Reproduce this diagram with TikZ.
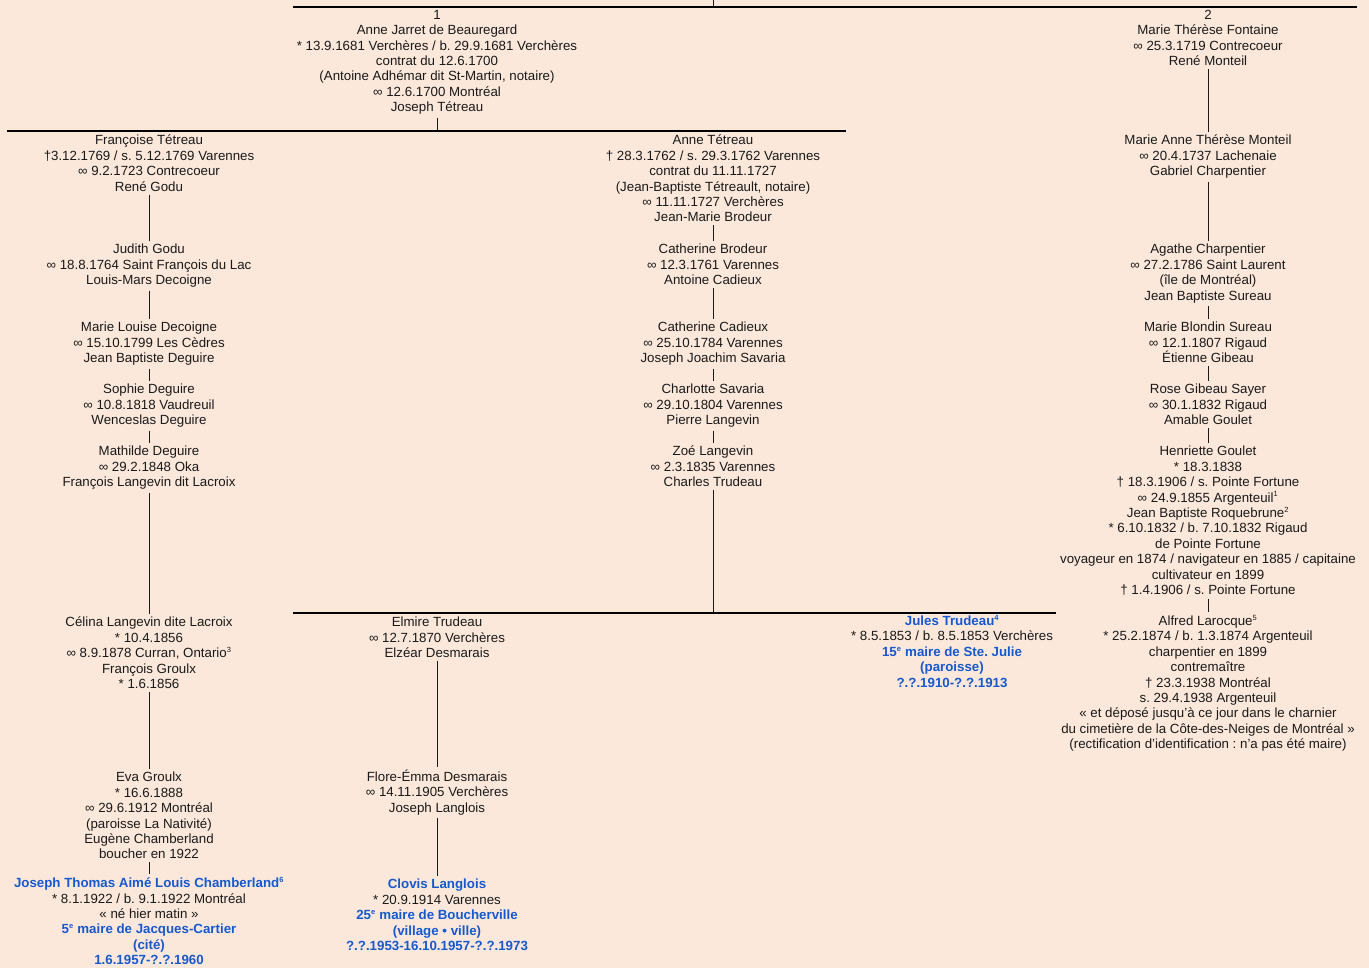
\documentclass[tikz,border=0pt]{standalone}
\usepackage{fontspec}
\setmainfont{Liberation Sans}
\frenchspacing

\definecolor{pagebg}{RGB}{252,232,219}
\definecolor{inkblack}{RGB}{25,25,25}
\definecolor{mayorblue}{RGB}{22,88,206}

\newcommand{\supnum}[1]{\textsuperscript{\fontsize{7.5}{7.5}\selectfont #1}}
\newcommand{\mayor}[1]{\textcolor{mayorblue}{\bfseries #1}}

\tikzset{
	person/.style={align=center, anchor=north, inner sep=3pt, yshift=-1pt, text=inkblack,
		font=\fontsize{13.3}{15.4}\selectfont},
	kin/.style={draw=inkblack, line width=0.8pt},
	bar/.style={draw=black, line width=2pt},
}

\begin{document}
\begin{tikzpicture}[x=1pt,y=-1pt]
	\fill[pagebg] (0,0) rectangle (1369,968);
	\useasboundingbox (0,0) rectangle (1369,968);

	% bars
	\coordinate (barAw) at (293,7);   \coordinate (barAe) at (1357,7);
	\coordinate (barBw) at (7,131);   \coordinate (barBe) at (846,131);
	\coordinate (barCw) at (293,613); \coordinate (barCe) at (1056,613);
	\coordinate (topstub) at (713,0);
	\draw[bar] (barAw) -- (barAe);
	\draw[bar] (barBw) -- (barBe);
	\draw[bar] (barCw) -- (barCe);

	% top couple
	\node[person] (n1) at (437,6) {1\\Anne Jarret de Beauregard\\* 13.9.1681 Verchères / b. 29.9.1681 Verchères\\contrat du 12.6.1700\\(Antoine Adhémar dit St-Martin, notaire)\\∞ 12.6.1700 Montréal\\Joseph Tétreau};
	\node[person] (n2) at (1208,6) {2\\Marie Thérèse Fontaine\\∞ 25.3.1719 Contrecoeur\\René Monteil};

	% left line
	\node[person] (ft) at (149,131) {Françoise Tétreau\\†3.12.1769 / s. 5.12.1769 Varennes\\∞ 9.2.1723 Contrecoeur\\René Godu};
	\node[person] (jg) at (149,240) {Judith Godu\\∞ 18.8.1764 Saint François du Lac\\Louis-Mars Decoigne};
	\node[person] (mld) at (149,318) {Marie Louise Decoigne\\∞ 15.10.1799 Les Cèdres\\Jean Baptiste Deguire};
	\node[person] (sd) at (149,380) {Sophie Deguire\\∞ 10.8.1818 Vaudreuil\\Wenceslas Deguire};
	\node[person] (md) at (149,442) {Mathilde Deguire\\∞ 29.2.1848 Oka\\François Langevin dit Lacroix};
	\node[person] (cl) at (149,613) {Célina Langevin dite Lacroix\\* 10.4.1856\\∞ 8.9.1878 Curran, Ontario\supnum{3}\\François Groulx\\* 1.6.1856};
	\node[person] (eg) at (149,768) {Eva Groulx\\* 16.6.1888\\∞ 29.6.1912 Montréal\\(paroisse La Nativité)\\Eugène Chamberland\\boucher en 1922};
	\node[person] (jc) at (149,873) {\mayor{Joseph Thomas Aimé Louis Chamberland\supnum{6}}\\* 8.1.1922 / b. 9.1.1922 Montréal\\« né hier matin »\\\mayor{5\supnum{e} maire de Jacques-Cartier}\\\mayor{(cité)}\\\mayor{1.6.1957-?.?.1960}};

	% middle line
	\node[person] (at) at (713,131) {Anne Tétreau\\† 28.3.1762 / s. 29.3.1762 Varennes\\contrat du 11.11.1727\\(Jean-Baptiste Tétreault, notaire)\\∞ 11.11.1727 Verchères\\Jean-Marie Brodeur};
	\node[person] (cb) at (713,240) {Catherine Brodeur\\∞ 12.3.1761 Varennes\\Antoine Cadieux};
	\node[person] (cc) at (713,318) {Catherine Cadieux\\∞ 25.10.1784 Varennes\\Joseph Joachim Savaria};
	\node[person] (cs) at (713,380) {Charlotte Savaria\\∞ 29.10.1804 Varennes\\Pierre Langevin};
	\node[person] (zl) at (713,442) {Zoé Langevin\\∞ 2.3.1835 Varennes\\Charles Trudeau};

	\node[person] (et) at (437,613) {Elmire Trudeau\\∞ 12.7.1870 Verchères\\Elzéar Desmarais};
	\node[person] (fd) at (437,765.5) {Flore-Émma Desmarais\\∞ 14.11.1905 Verchères\\Joseph Langlois};
	\node[person] (clo) at (437,875) {\mayor{Clovis Langlois}\\* 20.9.1914 Varennes\\\mayor{25\supnum{e} maire de Boucherville}\\\mayor{(village • ville)}\\\mayor{?.?.1953-16.10.1957-?.?.1973}};
	\node[person] (jt) at (952,611) {\mayor{Jules Trudeau\supnum{4}}\\* 8.5.1853 / b. 8.5.1853 Verchères\\\mayor{15\supnum{e} maire de Ste. Julie}\\\mayor{(paroisse)}\\\mayor{?.?.1910-?.?.1913}};

	% right line
	\node[person] (mat) at (1208,131) {Marie Anne Thérèse Monteil\\∞ 20.4.1737 Lachenaie\\Gabriel Charpentier};
	\node[person] (ac) at (1208,240) {Agathe Charpentier\\∞ 27.2.1786 Saint Laurent\\(île de Montréal)\\Jean Baptiste Sureau};
	\node[person] (mbs) at (1208,318) {Marie Blondin Sureau\\∞ 12.1.1807 Rigaud\\Étienne Gibeau};
	\node[person] (rgs) at (1208,380) {Rose Gibeau Sayer\\∞ 30.1.1832 Rigaud\\Amable Goulet};
	\node[person] (hg) at (1208,442) {Henriette Goulet\\* 18.3.1838\\† 18.3.1906 / s. Pointe Fortune\\∞ 24.9.1855 Argenteuil\supnum{1}\\Jean Baptiste Roquebrune\supnum{2}\\* 6.10.1832 / b. 7.10.1832 Rigaud\\de Pointe Fortune\\voyageur en 1874 / navigateur en 1885 / capitaine\\cultivateur en 1899\\† 1.4.1906 / s. Pointe Fortune};
	\node[person] (al) at (1208,611) {Alfred Larocque\supnum{5}\\* 25.2.1874 / b. 1.3.1874 Argenteuil\\charpentier en 1899\\contremaître\\† 23.3.1938 Montréal\\s. 29.4.1938 Argenteuil\\« et déposé jusqu'à ce jour dans le charnier\\du cimetière de la Côte-des-Neiges de Montréal »\\(rectification d'identification : n'a pas été maire)};

	% descent lines
	\draw[kin] (topstub) -- (topstub |- barAw);
	\draw[kin] (n1.south) -- (n1.south |- barBw);
	\draw[kin] (zl.south) -- (zl.south |- barCw);
	\foreach \a/\b in {n2/mat, mat/ac, ac/mbs, mbs/rgs, rgs/hg, hg/al,
		ft/jg, jg/mld, mld/sd, sd/md, md/cl, cl/eg, eg/jc,
		at/cb, cb/cc, cc/cs, cs/zl, et/fd, fd/clo}
		\draw[kin] (\a.south) -- (\b.north);
\end{tikzpicture}
\end{document}
